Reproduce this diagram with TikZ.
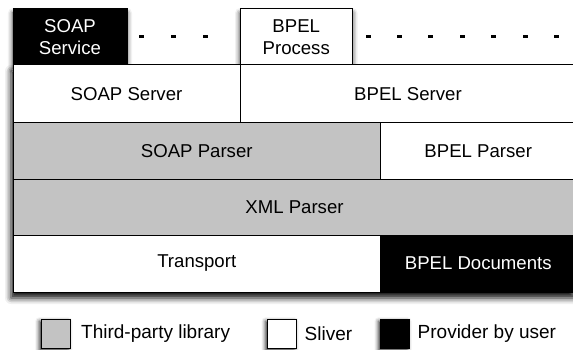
\documentclass[tikz,border=0pt]{standalone}
\usepackage{fontspec}
\setmainfont{Liberation Sans}
\usetikzlibrary{shadows.blur}
\definecolor{libgray}{RGB}{195,195,195}
\tikzset{
  cell/.style={draw=black, line width=1pt, inner sep=0pt, align=center,
    font=\fontsize{18.6}{22}\selectfont},
  whitecell/.style={cell, fill=white, text=black},
  graycell/.style={cell, fill=libgray, text=black},
  blackcell/.style={cell, fill=black, text=white},
  shadowed/.style={blur shadow={shadow xshift=0pt, shadow yshift=-4pt, shadow blur radius=5pt, shadow opacity=85}},
  legbox/.style={draw=black, line width=1pt, minimum width=29pt, minimum height=29pt, inner sep=0pt,
    blur shadow={shadow xshift=-2pt, shadow yshift=-2pt, shadow blur radius=4pt, shadow opacity=85}},
  legtext/.style={anchor=west, inner sep=0pt, font=\fontsize{19}{22}\selectfont},
  dotmark/.style={fill=black, minimum width=5pt, minimum height=3pt, inner sep=0pt}
}
\begin{document}
\begin{tikzpicture}[x=1pt, y=-1pt]
\useasboundingbox (0,0) rectangle (573,350);
% top boxes
\node[blackcell, shadowed, minimum width=114pt, minimum height=56pt] (soapsvc) at (70,37) {SOAP\\Service};
\node[whitecell, shadowed, minimum width=112.5pt, minimum height=56pt] (bpelproc) at (296.25,37) {BPEL\\Process};
% dots
\foreach \x [count=\i] in {141.7,173.3,205} \node[dotmark] (dA\i) at (\x,37) {};
\foreach \x [count=\i] in {368,399.4,430.8,462.2,493.6,525,556.4} \node[dotmark] (dB\i) at (\x,37) {};
% main block shadow
\path[fill=white, blur shadow={shadow xshift=-2pt, shadow yshift=-6pt, shadow blur radius=6pt, shadow opacity=95}] (13,65) rectangle (576,292);
% rows
\node[whitecell, minimum width=227pt, minimum height=57.5pt] (soapserver) at (126.5,93.75) {SOAP Server};
\node[whitecell, minimum width=336pt, minimum height=57.5pt] (bpelserver) at (408,93.75) {BPEL Server};
\node[graycell, minimum width=367.5pt, minimum height=57pt] (soapparser) at (196.75,151) {SOAP Parser};
\node[whitecell, minimum width=195.5pt, minimum height=57pt] (bpelparser) at (478.25,151) {BPEL Parser};
\node[graycell, minimum width=563pt, minimum height=55.5pt] (xmlparser) at (294.5,207.25) {XML Parser};
\node[whitecell, minimum width=367.5pt, minimum height=57pt] (transport) at (196.75,263.5) {Transport};
\node[blackcell, minimum width=195.5pt, minimum height=57pt] (bpeldocs) at (478.25,263.5) {BPEL Documents};
% legend
\node[legbox, fill=libgray] (lg1) at (55.75,333.8) {};
\node[legtext] (lt1) at (81,333.8) {Third-party library};
\node[legbox, fill=white] (lg2) at (282,333.8) {};
\node[legtext] (lt2) at (304.5,333.8) {Sliver};
\node[legbox, fill=black] (lg3) at (395,333.8) {};
\node[legtext] (lt3) at (417.5,333.8) {Provider by user};
\end{tikzpicture}
\end{document}
